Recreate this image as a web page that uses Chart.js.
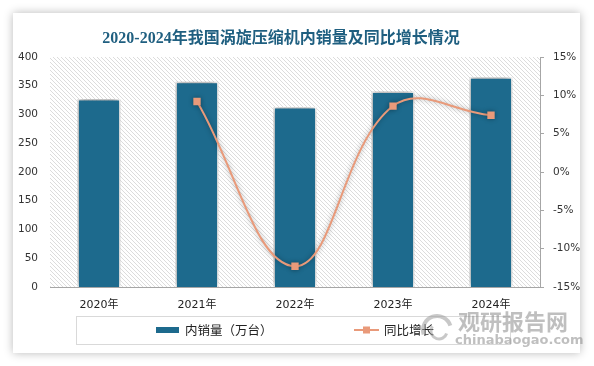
<!DOCTYPE html>
<html>
<head>
<meta charset="utf-8">
<script src="https://cdn.jsdelivr.net/npm/chart.js@4"></script>
<style>
  html, body { margin:0; padding:0; background:#fff; width:594px; height:366px; overflow:hidden; }
  #card { position:absolute; left:13px; top:13px; width:567px; height:340px; background:#fff;
          box-shadow: 0 0 9px rgba(0,0,0,0.28); }
  #c { position:absolute; left:0; top:0; }
</style>
</head>
<body>
<div id="card"></div>
<canvas id="c" width="594" height="366"></canvas>
<script>
const TITLE = '2020-2024年我国涡旋压缩机内销量及同比增长情况';
const categories = ['2020年', '2021年', '2022年', '2023年', '2024年'];
const salesValues = [327, 357, 313, 340, 365];           // 内销量（万台）
const growthValues = [null, 9.2, -12.3, 8.6, 7.4];       // 同比增长 (%)
const salesLabel = '内销量（万台）';
const growthLabel = '同比增长';
const leftAxis = { min: 0, max: 400, step: 50 };
const rightAxis = { min: -15, max: 15, step: 5 };
const WATERMARK = ['观研报告网', 'chinabaogao.com'];

const BAR_COLOR = '#1d6a8d';
const LINE_COLOR = '#e99a7a';
const FONT = '"DejaVu Sans", "Noto Sans CJK SC", sans-serif';
const CJK = '"Noto Sans CJK SC", "DejaVu Sans", sans-serif';

// hatch pattern
const pc = document.createElement('canvas');
pc.width = 4; pc.height = 4;
const pctx = pc.getContext('2d');
pctx.fillStyle = '#fff'; pctx.fillRect(0,0,4,4);
pctx.fillStyle = '#dcdcdc';
for (let i = 0; i < 4; i++) pctx.fillRect(i, i, 1, 1);

const hatchPlugin = {
  id: 'hatch',
  beforeDatasetsDraw(chart) {
    const {ctx, chartArea: a} = chart;
    ctx.save();
    ctx.fillStyle = ctx.createPattern(pc, 'repeat');
    ctx.fillRect(a.left, a.top, a.right - a.left, a.bottom - a.top);
    ctx.restore();
  }
};

const shadowPlugin = {
  id: 'shadow',
  beforeDatasetDraw(chart, args) {
    const ctx = chart.ctx;
    ctx.save();
    if (args.meta.type === 'bar') {
      ctx.shadowColor = 'rgba(0,0,0,0.45)';
      ctx.shadowBlur = 7;
      ctx.shadowOffsetX = -1;
      ctx.shadowOffsetY = -1;
    } else {
      ctx.shadowColor = 'rgba(0,0,0,0.35)';
      ctx.shadowBlur = 5;
    }
  },
  afterDatasetDraw(chart) { chart.ctx.restore(); }
};

const decoPlugin = {
  id: 'deco',
  afterDraw(chart) {
    const ctx = chart.ctx;
    ctx.save();
    // title
    ctx.fillStyle = '#1f5f80';
    ctx.font = 'bold 16px "Liberation Serif", "Noto Sans CJK SC", serif';
    ctx.textAlign = 'center';
    ctx.textBaseline = 'middle';
    ctx.fillText(TITLE, 281, 39);

    // legend box
    const ly = 330;
    ctx.strokeStyle = '#d9d9d9';
    ctx.lineWidth = 1;
    ctx.strokeRect(76.5, 316.5, 434, 28);
    // bar item
    ctx.fillStyle = BAR_COLOR;
    ctx.fillRect(156, ly - 3, 23, 6);
    ctx.fillStyle = '#222';
    ctx.font = '12.5px ' + CJK;
    ctx.textAlign = 'left';
    ctx.fillText(salesLabel, 185, ly);
    // line item
    ctx.strokeStyle = LINE_COLOR;
    ctx.lineWidth = 2;
    ctx.beginPath(); ctx.moveTo(354, ly); ctx.lineTo(379, ly); ctx.stroke();
    ctx.fillStyle = LINE_COLOR;
    ctx.fillRect(363, ly - 3.5, 7, 7);
    ctx.fillStyle = '#222';
    ctx.fillText(growthLabel, 384, ly);

    // watermark
    ctx.globalAlpha = 0.55;
    ctx.strokeStyle = '#9a9a9a';
    ctx.lineWidth = 4;
    ctx.beginPath(); ctx.arc(437, 330, 14, Math.PI * 0.9, Math.PI * 1.9); ctx.stroke();
    ctx.lineWidth = 3;
    ctx.beginPath(); ctx.arc(439, 331, 8, Math.PI * 0.1, Math.PI * 1.2); ctx.stroke();
    ctx.fillStyle = '#8a8a8a';
    ctx.font = 'bold 22px ' + CJK;
    ctx.fillText(WATERMARK[0], 458, 322);
    ctx.font = 'bold 13px ' + FONT;
    ctx.fillText(WATERMARK[1], 455, 341);
    ctx.restore();
  }
};

new Chart(document.getElementById('c'), {
  data: {
    labels: categories,
    datasets: [
      {
        type: 'bar', label: salesLabel, data: salesValues, yAxisID: 'y', order: 1,
        backgroundColor: BAR_COLOR, borderColor: '#ffffff', borderWidth: 1.5,
        barPercentage: 0.44, categoryPercentage: 1
      },
      {
        type: 'line', label: growthLabel, data: growthValues, yAxisID: 'y1', order: 0,
        borderColor: LINE_COLOR, backgroundColor: LINE_COLOR, borderWidth: 2,
        pointStyle: 'rect', pointRadius: 5.2, pointBorderWidth: 0, tension: 0.4
      }
    ]
  },
  options: {
    responsive: false, animation: false, devicePixelRatio: 1,
    layout: { padding: { left: 14, right: 14, top: 57, bottom: 49 } },
    plugins: { legend: { display: false }, title: { display: false }, tooltip: { enabled: false } },
    scales: {
      x: {
        grid: { display: false, drawTicks: false },
        border: { display: true, color: '#a6a6a6', width: 1 },
        ticks: { padding: 12, color: '#222', font: { size: 11, family: FONT } },
        afterFit(s) { s.height = 30; }
      },
      y: {
        position: 'left', min: leftAxis.min, max: leftAxis.max,
        grid: { display: false, drawTicks: false },
        border: { display: false },
        ticks: { stepSize: leftAxis.step, padding: 12, color: '#333', font: { size: 10.5, family: FONT } },
        afterFit(s) { s.width = 36; }
      },
      y1: {
        position: 'right', min: rightAxis.min, max: rightAxis.max,
        grid: { display: true, drawOnChartArea: false, drawTicks: true, tickLength: 4, color: '#a6a6a6' },
        border: { display: true, color: '#a6a6a6' },
        ticks: { stepSize: rightAxis.step, padding: 9, color: '#333', font: { size: 10.5, family: FONT },
                 callback: v => v + '%' },
        afterFit(s) { s.width = 40; }
      }
    }
  },
  plugins: [hatchPlugin, shadowPlugin, decoPlugin]
});
</script>
</body>
</html>
